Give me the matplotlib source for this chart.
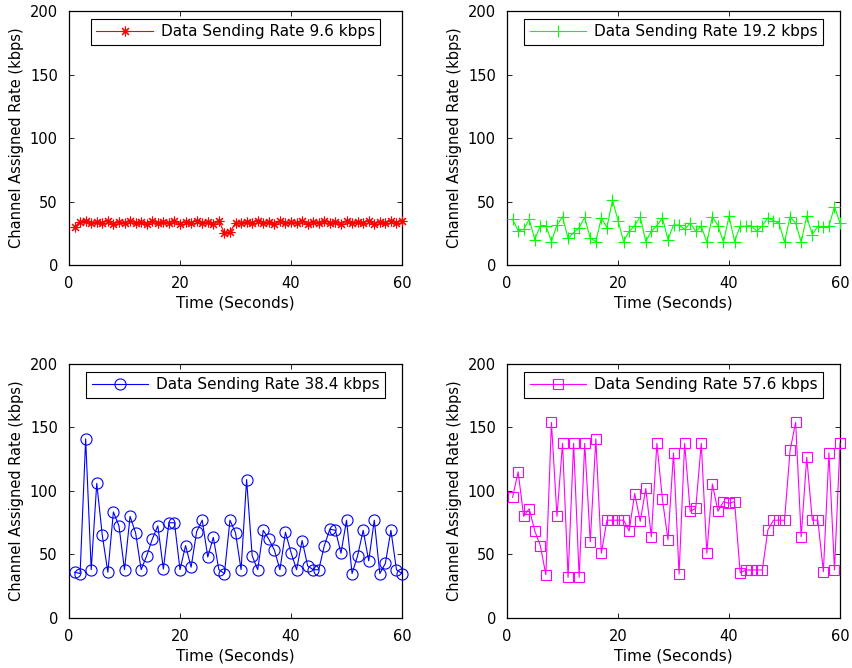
import numpy as np
import matplotlib
matplotlib.use('Agg')
import matplotlib.pyplot as plt

# time axis (seconds)
time_s = np.arange(1, 61)

# channel assigned rate (kbps) for each data sending rate
rate_9_6 = [30, 34, 35, 33, 34, 33, 35, 32, 34, 33, 35, 33, 34, 32, 35, 33, 34, 33, 35, 32,
            34, 33, 35, 33, 34, 32, 35, 25, 26, 33, 33, 34, 33, 35, 33, 34, 32, 35, 33, 34,
            33, 35, 32, 34, 33, 35, 33, 34, 32, 35, 33, 34, 33, 35, 32, 34, 33, 35, 33, 35]
rate_19_2 = [36, 27, 28, 36, 20, 31, 31, 18.5, 31.5, 38, 21, 25.5, 29.5, 37.5, 21, 18.5, 37, 29.5, 51, 35,
             18.5, 26.5, 31, 38, 18.5, 26.5, 31, 37, 20, 31.5, 31.5, 28, 33, 26.5, 30.5, 18, 38, 31, 18, 38.5,
             18.5, 30.5, 30.5, 31, 26.5, 31, 37, 35, 33, 18, 38, 33, 18, 38.5, 24, 30.5, 30, 30.5, 46, 33]
rate_38_4 = [36, 35, 141, 38, 106, 65, 36, 83.5, 72.5, 38, 80, 67, 38, 49, 62, 72.5, 38.5, 75, 75, 38,
             57, 40, 68, 77, 48, 63.5, 38, 35, 77, 67, 38, 109, 49, 38, 69, 62, 53.5, 38, 67.5, 51.5,
             38, 61, 41, 38, 38, 57, 70, 69, 51, 77, 35, 49, 69, 45, 77, 35, 43, 69, 38, 35]
rate_57_6 = [95, 115, 80, 86, 68.5, 57, 34, 154, 80, 137.5, 32, 137.5, 32, 137.5, 60, 141, 51, 77, 77, 77,
             77, 68.5, 98, 76, 102, 64, 137.5, 93.5, 61.5, 130, 34.6, 137.5, 84, 86.4, 137.5, 51, 105.5, 84, 91.6, 90.3,
             91.6, 35.7, 37.8, 37.8, 37.8, 37.8, 69.3, 77, 77, 77, 132, 154, 64, 126.5, 77, 77, 36.5, 130, 37.8, 137.5]

labels = ['Data Sending Rate 9.6 kbps', 'Data Sending Rate 19.2 kbps',
          'Data Sending Rate 38.4 kbps', 'Data Sending Rate 57.6 kbps']

fig = plt.figure(figsize=(8.53, 6.68), dpi=100)

# axes positions in figure fraction (left, bottom, width, height)
positions = [[0.0809, 0.6033, 0.3904, 0.3802],
             [0.5944, 0.6033, 0.3904, 0.3802],
             [0.0809, 0.0749, 0.3904, 0.3802],
             [0.5944, 0.0749, 0.3904, 0.3802]]


def draw_panel(pos, y, label, color, marker, ms):
    ax = fig.add_axes(pos)
    ax.plot(time_s, y, color=color, lw=0.8, marker=marker, ms=ms,
            mfc='none', mec=color, mew=0.8, label=label, clip_on=False, zorder=3)
    ax.set_xlim(0, 60)
    ax.set_ylim(0, 200)
    ax.set_xticks([0, 20, 40, 60])
    ax.set_yticks([0, 50, 100, 150, 200])
    ax.tick_params(direction='in', length=3.5, width=0.6, top=True, right=True,
                   labelsize=10.5, pad=8)
    for s in ax.spines.values():
        s.set_linewidth(0.9)
    ax.set_xlabel('Time (Seconds)', fontsize=11, labelpad=3)
    ax.set_ylabel('Channel Assigned Rate (kbps)', fontsize=10.5, labelpad=4)
    leg = ax.legend(loc='upper center', bbox_to_anchor=(0.5, 0.968), fontsize=11,
                    fancybox=False, framealpha=1, edgecolor='black',
                    handlelength=3.7, handletextpad=0.5, borderpad=0.35, borderaxespad=0)
    leg.get_frame().set_linewidth(0.8)
    return ax


draw_panel(positions[0], rate_9_6, labels[0], 'red', (8, 2, 0), 7)
draw_panel(positions[1], rate_19_2, labels[1], 'lime', '+', 8)
draw_panel(positions[2], rate_38_4, labels[2], 'blue', 'o', 8)
draw_panel(positions[3], rate_57_6, labels[3], 'magenta', 's', 6.5)

plt.savefig('out.png', dpi=100)
plt.close()
